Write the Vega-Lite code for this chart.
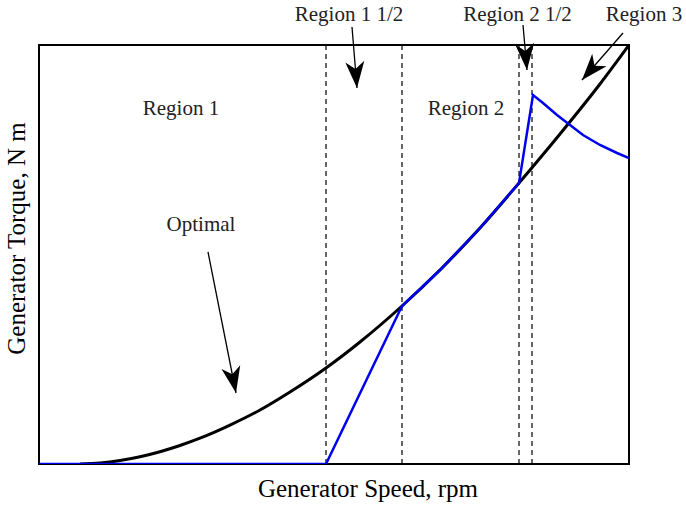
{
  "$schema": "https://vega.github.io/schema/vega-lite/v6.json",
  "width": 590,
  "height": 419,
  "autosize": {"type": "none"},
  "padding": {"left": 39, "top": 45, "right": 57, "bottom": 45},
  "background": "white",
  "config": {
    "view": {"stroke": "black", "strokeWidth": 2},
    "font": "Liberation Serif"
  },
  "datasets": {
    "optimal": [
      {"speed": 41, "torque": 0}, {"speed": 61, "torque": 1}, {"speed": 81, "torque": 3.5},
      {"speed": 101, "torque": 7.3}, {"speed": 121, "torque": 12.3}, {"speed": 141, "torque": 18.5},
      {"speed": 161, "torque": 25.8}, {"speed": 191, "torque": 38.9}, {"speed": 221, "torque": 54},
      {"speed": 251, "torque": 72}, {"speed": 287, "torque": 96}, {"speed": 321, "torque": 122},
      {"speed": 363, "torque": 158}, {"speed": 401, "torque": 194}, {"speed": 441, "torque": 236},
      {"speed": 480, "torque": 281}, {"speed": 521, "torque": 330}, {"speed": 561, "torque": 380},
      {"speed": 590, "torque": 419}
    ],
    "actual": [
      {"speed": 0, "torque": 0}, {"speed": 287, "torque": 0}, {"speed": 363, "torque": 158},
      {"speed": 401, "torque": 194}, {"speed": 441, "torque": 236}, {"speed": 480, "torque": 281},
      {"speed": 494, "torque": 369}, {"speed": 504, "torque": 361}, {"speed": 518, "torque": 349},
      {"speed": 531, "torque": 339}, {"speed": 544, "torque": 329}, {"speed": 561, "torque": 319},
      {"speed": 578, "torque": 311}, {"speed": 590, "torque": 306}
    ],
    "bounds": [{"speed": 287}, {"speed": 363}, {"speed": 480}, {"speed": 493}],
    "labels": [
      {"speed": 142, "torque": 349, "text": "Region 1"},
      {"speed": 427, "torque": 349, "text": "Region 2"},
      {"speed": 162, "torque": 233, "text": "Optimal"},
      {"speed": 310, "torque": 443, "text": "Region 1 1/2"},
      {"speed": 478.5, "torque": 443, "text": "Region 2 1/2"},
      {"speed": 605, "torque": 443, "text": "Region 3"}
    ],
    "arrows": [
      {"from_s": 169, "from_t": 212, "to_s": 197, "to_t": 71, "angle": 168.8},
      {"from_s": 313, "from_t": 437, "to_s": 318, "to_t": 376, "angle": 175.3},
      {"from_s": 484, "from_t": 439, "to_s": 488, "to_t": 394, "angle": 174.9},
      {"from_s": 584, "from_t": 431, "to_s": 543, "to_t": 384, "angle": 221.1}
    ]
  },
  "layer": [
    {
      "data": {"name": "bounds"},
      "mark": {"type": "rule", "color": "black", "strokeWidth": 1.2, "strokeDash": [5, 4]},
      "encoding": {
        "x": {
          "field": "speed", "type": "quantitative",
          "scale": {"domain": [0, 590], "nice": false, "zero": false},
          "axis": {
            "title": "Generator Speed, rpm", "domain": false, "ticks": false, "labels": false, "grid": false,
            "titleFont": "Liberation Serif", "titleFontSize": 25, "titleFontWeight": "normal", "titleColor": "black",
            "titleBaseline": "alphabetic", "titlePadding": 32, "titleX": 328.5
          }
        }
      }
    },
    {
      "data": {"name": "optimal"},
      "mark": {"type": "line", "color": "black", "strokeWidth": 3, "interpolate": "monotone", "clip": true},
      "encoding": {
        "x": {"field": "speed", "type": "quantitative"},
        "y": {
          "field": "torque", "type": "quantitative",
          "scale": {"domain": [0, 419], "nice": false, "zero": false},
          "axis": {
            "title": "Generator Torque, N m", "domain": false, "ticks": false, "labels": false, "grid": false,
            "titleFont": "Liberation Serif", "titleFontSize": 25, "titleFontWeight": "normal", "titleColor": "black",
            "titleBaseline": "alphabetic", "titlePadding": 15, "titleY": 193
          }
        }
      }
    },
    {
      "data": {"name": "actual"},
      "mark": {"type": "line", "color": "#0000f0", "strokeWidth": 2.5, "interpolate": "linear", "clip": true},
      "encoding": {
        "x": {"field": "speed", "type": "quantitative"},
        "y": {"field": "torque", "type": "quantitative"}
      }
    },
    {
      "data": {"name": "labels"},
      "mark": {"type": "text", "font": "Liberation Serif", "fontSize": 21, "baseline": "alphabetic", "align": "center", "color": "#222"},
      "encoding": {
        "x": {"field": "speed", "type": "quantitative"},
        "y": {"field": "torque", "type": "quantitative"},
        "text": {"field": "text"}
      }
    },
    {
      "data": {"name": "arrows"},
      "mark": {"type": "rule", "color": "black", "strokeWidth": 1.3},
      "encoding": {
        "x": {"field": "from_s", "type": "quantitative"},
        "y": {"field": "from_t", "type": "quantitative"},
        "x2": {"field": "to_s"},
        "y2": {"field": "to_t"}
      }
    },
    {
      "data": {"name": "arrows"},
      "mark": {"type": "point", "filled": true, "color": "black", "opacity": 1, "size": 2800, "strokeWidth": 0,
        "shape": "M0,0 L0.36,1 L0,0.72 L-0.36,1 Z"},
      "encoding": {
        "x": {"field": "to_s", "type": "quantitative"},
        "y": {"field": "to_t", "type": "quantitative"},
        "angle": {"field": "angle", "type": "quantitative", "scale": null}
      }
    }
  ]
}
